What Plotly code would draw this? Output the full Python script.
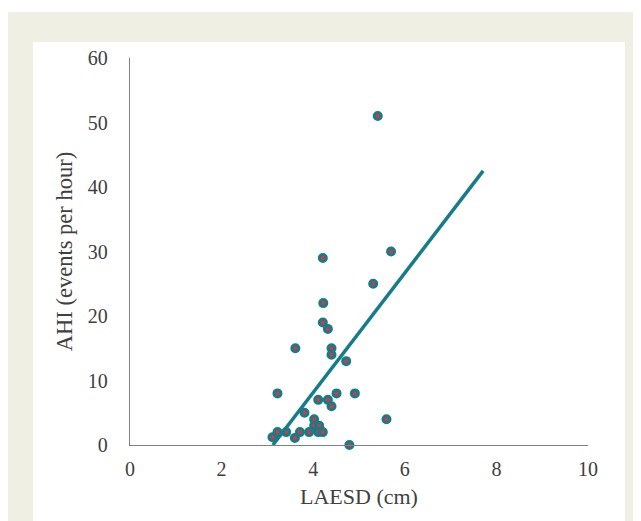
import plotly.graph_objects as go

laesd = [5.41, 5.70, 4.21, 5.31, 4.22, 4.21, 4.32, 3.61, 4.40, 4.40, 4.72,
         3.22, 4.51, 4.91, 4.11, 4.32, 4.40, 3.81, 5.60, 4.02, 4.02, 4.13,
         3.22, 3.41, 3.71, 3.91, 4.11, 4.21, 3.11, 3.60, 4.79]
ahi = [51, 30, 29, 25, 22, 19, 18, 15, 15, 14, 13,
       8, 8, 8, 7, 7, 6, 5, 4, 4, 3, 3,
       2, 2, 2, 2, 2, 2, 1.2, 1.1, 0]
trend_x = [3.12, 7.71]
trend_y = [0, 42.5]
x_ticks = [0, 2, 4, 6, 8, 10]
y_ticks = [0, 10, 20, 30, 40, 50, 60]

TEAL = "#167d88"
RED = "#e8303c"
FONT = "Liberation Serif, Times New Roman, serif"

# page body adds an 8px offset; compensate
OFF = 8

fig = go.Figure()
fig.add_trace(go.Scatter(
    x=laesd, y=ahi, mode="markers",
    marker=dict(size=7, color=RED, line=dict(color=TEAL, width=3)),
    cliponaxis=False, showlegend=False))
fig.add_trace(go.Scatter(
    x=trend_x, y=trend_y, mode="lines",
    line=dict(color=TEAL, width=3.5), showlegend=False))

L, R, T, B = 130 - OFF, 588 - OFF, 58 - OFF, 445 - OFF
W = R - L
H = B - T
def px(x):
    return (x - OFF - L) / W
def py(y):
    return (B - (y - OFF)) / H

fig.add_shape(type="rect", xref="paper", yref="paper", layer="below",
              x0=px(8), x1=px(660), y0=py(540), y1=py(12),
              fillcolor="#efefe4", line=dict(width=0))
fig.add_shape(type="rect", xref="paper", yref="paper", layer="below",
              x0=px(33), x1=px(625), y0=py(540), y1=py(42),
              fillcolor="#ffffff", line=dict(width=0))

fig.update_layout(
    width=641, height=521,
    margin=dict(l=L, r=641 - R, t=T, b=521 - B),
    paper_bgcolor="white", plot_bgcolor="rgba(0,0,0,0)",
    font=dict(family=FONT, size=20, color="#404040"),
    xaxis=dict(range=[0, 10], tickvals=x_ticks, showgrid=False, zeroline=False,
               showline=True, linecolor="#808080", linewidth=1.3,
               ticks="outside", ticklen=6, tickcolor="rgba(0,0,0,0)",
               tickfont=dict(family=FONT, size=20, color="#404040"),
               title=dict(text="LAESD (cm)", standoff=9,
                          font=dict(family=FONT, size=22, color="#404040"))),
    yaxis=dict(range=[0, 60], tickvals=y_ticks, showgrid=False, zeroline=False,
               showline=True, linecolor="#808080", linewidth=1.3,
               ticks="outside", ticklen=17, tickcolor="rgba(0,0,0,0)",
               tickfont=dict(family=FONT, size=20, color="#404040"),
               title=dict(text="AHI (events per hour)", standoff=8,
                          font=dict(family=FONT, size=22.5, color="#404040"))),
)

fig.write_html("out.html")
